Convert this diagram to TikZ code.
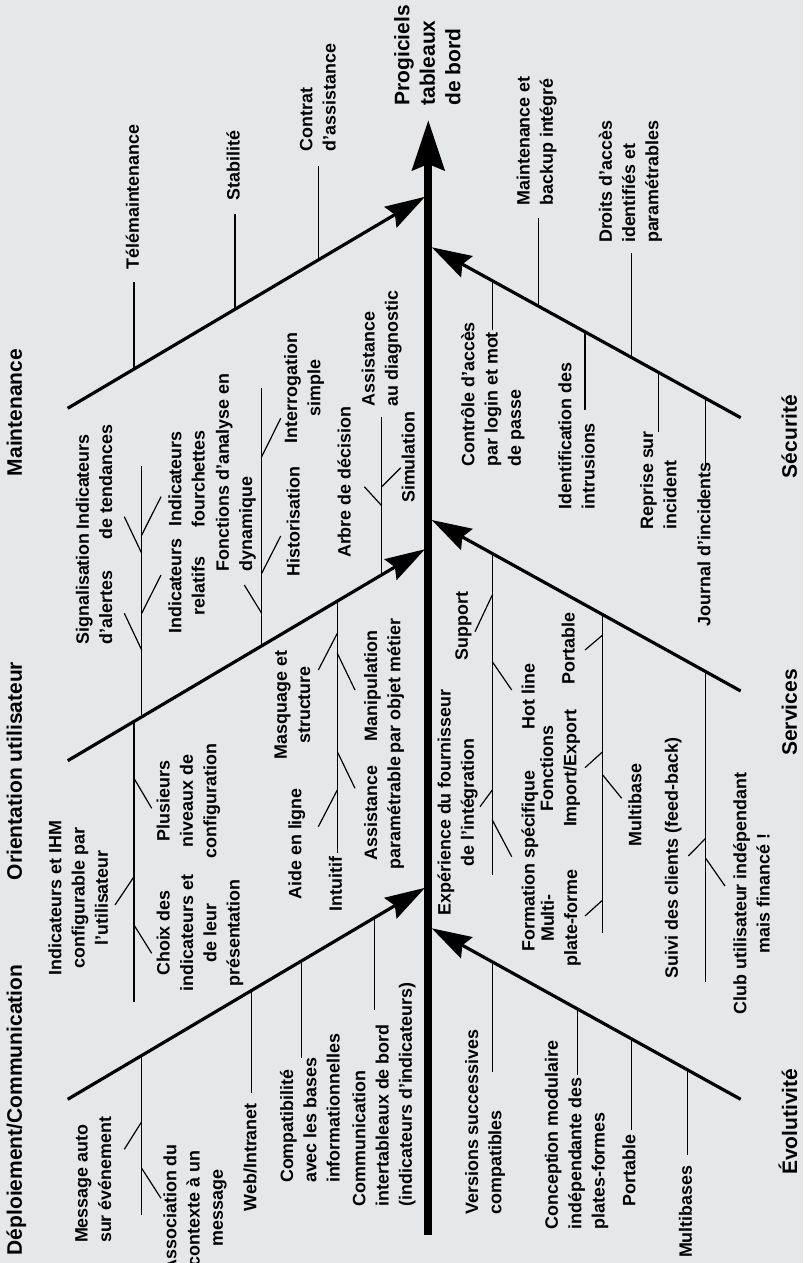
\documentclass[tikz,border=0pt]{standalone}
\usepackage{fontspec}
\setmainfont{Liberation Sans}
\usetikzlibrary{arrows.meta}
\definecolor{bg}{RGB}{230,231,232}
\newcommand\fbItem{\fontsize{8.95}{11.65}\selectfont\bfseries}
\newcommand\fbTitle{\fontsize{10.5}{12.75}\selectfont\bfseries}
\begin{document}
\begin{tikzpicture}[x=0.5pt,y=-0.5pt,
 lab/.style={rotate=90,inner sep=0pt,font=\fbItem,execute at begin node=\strut,execute at end node=\strut},
 labL/.style={lab,anchor=west,align=left},
 labC/.style={lab,anchor=center,align=center},
 tit/.style={rotate=90,inner sep=0pt,font=\fbTitle,execute at begin node=\strut,execute at end node=\strut},
 bone/.style={line width=1.6pt,-{Stealth[length=20pt,width=12pt,inset=2.5pt]}},
 tick/.style={line width=0.75pt},
 twig/.style={line width=0.6pt},
]
\fill[bg] (0,0) rectangle (803,1263);
\useasboundingbox (0,0) rectangle (803,1263);

% spine
\coordinate (sp0) at (428.3,1235);
\coordinate (sp1) at (428.3,120);
\draw[line width=4pt,-{Stealth[length=25pt,width=16pt,inset=3pt]}] (sp0) -- (sp1);
\node[tit,anchor=west,align=left] (head) at (431.2,106) {Progiciels\\tableaux\\de bord};

% main bones
\coordinate (M0) at (67.7,408.3);  \coordinate (M1) at (425,196.8);
\coordinate (O0) at (67.7,760.7);  \coordinate (O1) at (425,549.2);
\coordinate (D0) at (67.7,1099.3); \coordinate (D1) at (425,887.8);
\coordinate (S0) at (740.7,417.7); \coordinate (S1) at (431.7,247.3);
\coordinate (V0) at (740.7,691);   \coordinate (V1) at (431.7,520);
\coordinate (E0) at (740.7,1099.3);\coordinate (E1) at (431.7,928.3);
\draw[bone] (M0) -- (M1);
\draw[bone] (O0) -- (O1);
\draw[bone] (D0) -- (D1);
\draw[bone] (S0) -- (S1);
\draw[bone] (V0) -- (V1);
\draw[bone] (E0) -- (E1);

% titles
\node[tit] (tMaint) at (16.7,412.5) {Maintenance};
\node[tit] (tOrient) at (16.7,771) {Orientation utilisateur};
\node[tit] (tDeploy) at (16.7,1110) {Déploiement/Communication};
\node[tit] (tSecu) at (791.7,436.7) {Sécurité};
\node[tit] (tServ) at (791.7,712.5) {Services};
\node[tit] (tEvol) at (791.7,1121.7) {Évolutivité};

% ---- Maintenance
\draw[tick] (134,369.0) -- (134,281.7);
\draw[tick] (235,309.3) -- (235,214);
\draw[tick] (318.3,259.9) -- (318.3,165.7);
\node[labL] (tele) at (134.3,270) {Télémaintenance};
\node[labL] (stab) at (235,201) {Stabilité};
\node[labL] (contrat) at (321.3,151.7) {Contrat\\d’assistance};

% ---- Sécurité
\draw[tick] (538.3,306.3) -- (538.3,218.3);
\draw[tick] (631.7,358) -- (631.7,253.3);
\draw[tick] (492.3,280.8) -- (492.3,330);
\draw[tick] (585,332.1) -- (585,410);
\draw[tick] (658.3,372.7) -- (658.3,431.7);
\draw[tick] (705.7,398.9) -- (705.7,466.7);
\node[labL] (backup) at (538.3,206) {Maintenance et\\backup intégré};
\node[labL] (droits) at (632,243.3) {Droits d’accès\\identifiés et\\paramétrables};
\node[labL] (controle) at (494.4,466.7) {Contrôle d’accès\\par login et mot\\de passe};
\node[labL] (intrus) at (580,510) {Identification des\\intrusions};
\node[labL] (reprise) at (661.7,530) {Reprise sur\\incident};
\node[labL] (journal) at (705.7,626.7) {Journal d’incidents};

% ---- Orientation utilisateur (upper)
\draw[tick] (141.7,716.9) -- (141.7,466);
\draw[tick] (261.7,645.9) -- (261.7,388.3);
\draw[tick] (381.7,574.8) -- (381.7,416.7);
\draw[twig] (141.7,535) -- (161,496.7);
\draw[twig] (141.7,553.3) -- (124.3,516.7);
\draw[twig] (141.7,613.3) -- (161,575);
\draw[twig] (141.7,650) -- (124.3,613.3);
\draw[twig] (261.7,456.7) -- (280.7,418.3);
\draw[twig] (261.7,573.3) -- (280.7,536);
\draw[twig] (261.7,613.3) -- (244.3,585);
\draw[twig] (381.7,486.7) -- (400.7,467.7);
\draw[twig] (381.7,505.7) -- (364.3,486.7);
\node[labL] (signal) at (97.5,645) {Signalisation\\d’alertes};
\node[labC] (tend) at (97.5,482) {Indicateurs\\de tendances};
\node[labC] (relat) at (190,586) {Indicateurs\\relatifs};
\node[labC] (fourch) at (190,479) {Indicateurs\\fourchettes};
\node[labL] (fonct) at (237.5,571.7) {Fonctions d’analyse en\\dynamique};
\node[labL] (histo) at (295,576.7) {Historisation};
\node[labC] (interro) at (305.8,388) {Interrogation\\simple};
\node[labL] (arbre) at (346,558.3) {Arbre de décision};
\node[labL] (simul) at (410,503.3) {Simulation};
\node[labL] (diag) at (383.3,406.7) {Assistance\\au diagnostic};

% ---- Orientation utilisateur (lower)
\draw[tick] (134,721.5) -- (134,1001.7);
\draw[tick] (337.3,601.1) -- (337.3,853.3);
\draw[twig] (337.3,633.3) -- (318.3,670);
\draw[twig] (337.3,653.3) -- (355,690);
\draw[twig] (337.3,751.7) -- (355,788.3);
\draw[twig] (337.3,790) -- (318.3,826.7);
\draw[twig] (134,778.3) -- (151.7,808.3);
\draw[twig] (134,876.7) -- (115,905);
\draw[twig] (134,925) -- (151.7,953.3);
\node[labC] (masq) at (295.8,705) {Masquage et\\structure};
\node[labC] (manip) at (385.8,686) {Manipulation\\par objet métier};
\node[labC] (asspar) at (385.8,813) {Assistance\\paramétrable};
\node[labL] (aide) at (296.7,900) {Aide en ligne};
\node[labL] (intuit) at (337.3,911.7) {Intuitif};
\node[labC] (plus) at (190,801) {Plusieurs\\niveaux de\\configuration};
\node[labC] (ihm) at (81.7,898) {Indicateurs et IHM\\configurable par\\l’utilisateur};
\node[labC] (choix) at (201.7,933) {Choix des\\indicateurs et\\de leur\\présentation};

% ---- Déploiement/Communication
\draw[tick] (141.7,1055.5) -- (141.7,1215);
\draw[tick] (251.7,990.4) -- (251.7,1093.3);
\draw[tick] (301.7,960.8) -- (301.7,1058.3);
\draw[tick] (374.3,917.8) -- (374.3,1010);
\draw[twig] (141.7,1121.7) -- (124.3,1149.3);
\draw[twig] (141.7,1168.3) -- (161,1198.3);
\node[labL] (msg) at (96.7,1243.3) {Message auto\\sur événement};
\node[labC] (assoc) at (196.7,1208.3) {Association du\\contexte à un\\message};
\node[labL] (web) at (251.7,1211.7) {Web/Intranet};
\node[labL] (compat) at (313.3,1183.3) {Compatibilité\\avec les bases\\informationnelles};
\node[labL] (comm) at (385.6,1206.7) {Communication\\intertableaux de bord\\(indicateurs d’indicateurs)};

% ---- Services
\draw[tick] (492.3,553.5) -- (492.3,875);
\draw[tick] (602.7,614.6) -- (602.7,933.3);
\draw[tick] (705.7,671.6) -- (705.7,982.3);
\draw[twig] (492.3,595) -- (475,631.7);
\draw[twig] (492.3,661.7) -- (511.7,690);
\draw[twig] (492.3,790) -- (480,806.7);
\draw[twig] (492.3,820) -- (511.7,856.7);
\draw[twig] (602.7,635) -- (585,650);
\draw[twig] (602.7,751.7) -- (585,767.7);
\draw[twig] (602.7,775) -- (621.7,798.3);
\draw[twig] (602.7,900) -- (585,916);
\draw[twig] (705.7,838.3) -- (688.3,856);
\draw[twig] (705.7,858.3) -- (725,886);
\node[labL] (support) at (463.3,661) {Support};
\node[labL] (hot) at (530,730) {Hot line};
\node[labC] (exper) at (459.2,802.5) {Expérience du fournisseur\\de l’intégration};
\node[labL] (form) at (530,951.7) {Formation spécifique};
\node[labL] (port1) at (570,685) {Portable};
\node[labC] (impex) at (561.7,768.3) {Fonctions\\Import/Export};
\node[labL] (multib) at (636.7,846.7) {Multibase};
\node[labC] (multip) at (562.5,918) {Multi-\\plate-forme};
\node[labL] (suivi) at (673.3,979) {Suivi des clients (feed-back)};
\node[labC] (club) at (755,893.5) {Club utilisateur indépendant\\mais financé !};

% ---- Évolutivité
\draw[tick] (492.3,961.8) -- (492.3,1071.7);
\draw[tick] (577.7,1009.1) -- (577.7,1075);
\draw[tick] (631.7,1039.0) -- (631.7,1130);
\draw[tick] (687.7,1070) -- (687.7,1155);
\node[labL] (vers) at (486.7,1215) {Versions successives\\compatibles};
\node[labL] (concep) at (578.3,1230) {Conception modulaire\\indépendante des\\plates-formes};
\node[labL] (port2) at (630.8,1206.7) {Portable};
\node[labL] (multibs) at (687.2,1258.3) {Multibases};
\end{tikzpicture}
\end{document}
